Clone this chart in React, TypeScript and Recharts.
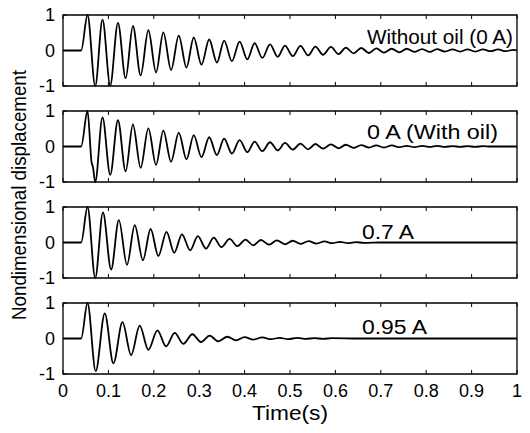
import React from 'react';
import { LineChart, Line, XAxis, YAxis, ReferenceArea } from 'recharts';

// Time axis ticks (s) and displacement ticks
const xTicks = [0, 0.1, 0.2, 0.3, 0.4, 0.5, 0.6, 0.7, 0.8, 0.9, 1];
const xTickLabels = ['0', '0.1', '0.2', '0.3', '0.4', '0.5', '0.6', '0.7', '0.8', '0.9', '1'];
const yTicks = [-1, 0, 1];
const yTickLabels = ['-1', '0', '1'];

const panelLabels = ['Without oil (0 A)', '0 A (With oil)', '0.7 A', '0.95 A'];

// Panel 1: Without oil (0 A) — extrema times and values
const timeWithoutOil = [0, 0.040, 0.054, 0.071, 0.087, 0.104, 0.121, 0.138, 0.154, 0.171, 0.188, 0.205, 0.221, 0.238, 0.255, 0.272, 0.288, 0.305, 0.322, 0.339, 0.355, 0.372, 0.389, 0.406, 0.422, 0.439, 0.456, 0.473, 0.489, 0.506, 0.523, 0.540, 0.556, 0.573, 0.590, 0.607, 0.623, 0.640, 0.657, 0.674, 0.690, 0.707, 0.724, 0.741, 0.757, 0.774, 0.791, 0.808, 0.824, 0.841, 0.858, 0.875, 0.891, 0.908, 0.925, 0.942, 0.958, 0.975, 0.992, 1.0];
const dispWithoutOil = [0, 0, 1.0, -1.0, 0.87, -0.98, 0.78, -0.78, 0.69, -0.70, 0.57, -0.62, 0.51, -0.55, 0.42, -0.48, 0.37, -0.40, 0.31, -0.34, 0.28, -0.30, 0.25, -0.25, 0.21, -0.21, 0.17, -0.18, 0.14, -0.16, 0.13, -0.14, 0.11, -0.12, 0.10, -0.10, 0.08, -0.08, 0.07, -0.07, 0.06, -0.06, 0.05, -0.05, 0.05, -0.04, 0.04, -0.04, 0.04, -0.03, 0.03, -0.03, 0.03, -0.03, 0.03, -0.02, 0.03, -0.02, 0.02, 0.0];

// Panel 2: 0 A (With oil)
const timeWithOil = [0, 0.040, 0.054, 0.063, 0.066, 0.071, 0.087, 0.104, 0.121, 0.138, 0.154, 0.171, 0.188, 0.205, 0.221, 0.238, 0.255, 0.272, 0.288, 0.305, 0.322, 0.339, 0.355, 0.372, 0.389, 0.406, 0.422, 0.439, 0.456, 0.473, 0.489, 0.506, 0.523, 0.540, 0.556, 0.573, 0.590, 0.607, 0.623, 0.640, 0.657, 0.674, 0.690, 0.707, 0.724, 0.741, 0.757, 0.774, 0.791, 0.808, 0.824, 0.841, 0.858, 0.875, 0.891, 0.908, 0.925, 0.942, 0.958, 0.975, 0.992, 1.0];
const dispWithOil = [0, 0, 1.0, -0.45, -0.58, -1.0, 0.82, -0.80, 0.74, -0.70, 0.62, -0.60, 0.51, -0.52, 0.45, -0.43, 0.39, -0.36, 0.32, -0.30, 0.26, -0.24, 0.22, -0.20, 0.18, -0.16, 0.14, -0.13, 0.12, -0.11, 0.10, -0.09, 0.08, -0.08, 0.07, -0.06, 0.06, -0.05, 0.05, -0.04, 0.04, -0.03, 0.03, -0.03, 0.03, -0.02, 0.02, -0.02, 0.02, -0.01, 0.02, -0.01, 0.01, -0.01, 0.01, -0.01, 0.01, 0, 0, 0, 0, 0];

// Panel 3: 0.7 A
const time07A = [0, 0.040, 0.054, 0.071, 0.088, 0.106, 0.123, 0.141, 0.158, 0.176, 0.193, 0.210, 0.228, 0.245, 0.262, 0.280, 0.297, 0.315, 0.332, 0.349, 0.367, 0.384, 0.402, 0.419, 0.436, 0.454, 0.471, 0.489, 0.506, 0.523, 0.541, 0.558, 0.576, 0.593, 0.610, 0.628, 0.645, 0.663, 0.700, 1.0];
const disp07A = [0, 0, 1.0, -1.0, 0.85, -0.76, 0.63, -0.63, 0.49, -0.50, 0.38, -0.38, 0.30, -0.29, 0.23, -0.22, 0.18, -0.17, 0.14, -0.13, 0.10, -0.10, 0.08, -0.08, 0.07, -0.06, 0.06, -0.05, 0.05, -0.04, 0.04, -0.03, 0.03, -0.02, 0.02, -0.02, 0.01, -0.01, 0, 0];

// Panel 4: 0.95 A
const time095A = [0, 0.040, 0.054, 0.072, 0.092, 0.111, 0.131, 0.150, 0.169, 0.188, 0.208, 0.227, 0.246, 0.265, 0.285, 0.304, 0.323, 0.342, 0.362, 0.381, 0.400, 0.419, 0.439, 0.458, 0.477, 0.496, 0.516, 0.535, 0.554, 0.573, 0.593, 0.650, 1.0];
const disp095A = [0, 0, 1.0, -0.92, 0.71, -0.70, 0.46, -0.47, 0.36, -0.32, 0.23, -0.22, 0.16, -0.15, 0.12, -0.10, 0.08, -0.08, 0.05, -0.05, 0.04, -0.03, 0.03, -0.02, 0.02, -0.02, 0.02, -0.01, 0.01, -0.01, 0.01, 0, 0];

const FONT = '"Liberation Sans", Arial, Helvetica, sans-serif';
const W = 530;
const H = 433;
const PLOT_H = 72;
const PAD = 10;
const panelTops = [15, 111, 207, 303];

const fmtX = (v: number) => {
  const i = xTicks.findIndex((t) => Math.abs(t - v) < 1e-9);
  return i >= 0 ? xTickLabels[i] : '';
};
const fmtY = (v: number) => {
  const i = yTicks.indexOf(v);
  return i >= 0 ? yTickLabels[i] : '';
};
const blank = () => '';

const tickStyle = { fontSize: 18, fill: '#000', fontFamily: FONT };

function Panel({ time, values, top, showX }: { time: number[]; values: number[]; top: number; showX: boolean }) {
  const data = time.map((t, i) => ({ t, v: values[i] }));
  const xh = showX ? 36 : 1;
  const height = PLOT_H + PAD * 2 + xh;
  return (
    <div style={{ position: 'absolute', left: 0, top: top - PAD - 1 }}>
      <LineChart width={W} height={height} data={data} margin={{ top: PAD, right: 12, bottom: PAD, left: 0 }} style={{ overflow: 'visible' }}>
        <XAxis
          xAxisId="b"
          dataKey="t"
          type="number"
          domain={[0, 1]}
          ticks={xTicks}
          orientation="bottom"
          height={xh}
          stroke="#000"
          axisLine={false}
          tickSize={-4}
          tickMargin={14}
          tickFormatter={showX ? fmtX : blank}
          tick={tickStyle}
          interval={0}
        />
        <XAxis
          xAxisId="t"
          dataKey="t"
          type="number"
          domain={[0, 1]}
          ticks={xTicks}
          orientation="top"
          height={1}
          stroke="#000"
          axisLine={false}
          tickSize={-4}
          tickFormatter={blank}
          interval={0}
        />
        <YAxis
          yAxisId="l"
          type="number"
          domain={[-1, 1]}
          ticks={yTicks}
          width={63}
          stroke="#000"
          axisLine={false}
          tickSize={-4}
          tickMargin={12}
          tickFormatter={fmtY}
          tick={tickStyle}
          interval={0}
        />
        <YAxis
          yAxisId="r"
          type="number"
          orientation="right"
          domain={[-1, 1]}
          ticks={yTicks}
          width={1}
          stroke="#000"
          axisLine={false}
          tickSize={-4}
          tickFormatter={blank}
          interval={0}
        />
        <ReferenceArea
          xAxisId="b"
          yAxisId="l"
          x1={0}
          x2={1}
          y1={-1}
          y2={1}
          fill="none"
          fillOpacity={0}
          stroke="#000"
          strokeWidth={1.3}
          ifOverflow="visible"
        />
        <Line
          xAxisId="b"
          yAxisId="l"
          dataKey="v"
          type="monotone"
          stroke="#000"
          strokeWidth={1.8}
          dot={false}
          activeDot={false}
          isAnimationActive={false}
        />
      </LineChart>
    </div>
  );
}

export default function App() {
  return (
    <div style={{ position: 'absolute', left: 0, top: 0, width: W, height: H, background: '#fff', fontFamily: FONT }}>
      <Panel time={timeWithoutOil} values={dispWithoutOil} top={panelTops[0]} showX={false} />
      <Panel time={timeWithOil} values={dispWithOil} top={panelTops[1]} showX={false} />
      <Panel time={time07A} values={disp07A} top={panelTops[2]} showX={false} />
      <Panel time={time095A} values={disp095A} top={panelTops[3]} showX={true} />
      <svg width={W} height={H} style={{ position: 'absolute', left: 0, top: 0, pointerEvents: 'none' }}>
        <g fontFamily={FONT} fill="#000" fontSize={20}>
          <text x={367} y={44} textLength={146} lengthAdjust="spacingAndGlyphs">{panelLabels[0]}</text>
          <text x={367} y={139} textLength={131} lengthAdjust="spacingAndGlyphs">{panelLabels[1]}</text>
          <text x={362} y={238.5} textLength={52} lengthAdjust="spacingAndGlyphs">{panelLabels[2]}</text>
          <text x={362} y={333.5} textLength={65} lengthAdjust="spacingAndGlyphs">{panelLabels[3]}</text>
          <text x={290} y={420} textAnchor="middle" textLength={76} lengthAdjust="spacingAndGlyphs">Time(s)</text>
          <text transform="translate(26,195) rotate(-90)" textAnchor="middle" textLength={250} lengthAdjust="spacingAndGlyphs">Nondimensional displacement</text>
        </g>
      </svg>
    </div>
  );
}
